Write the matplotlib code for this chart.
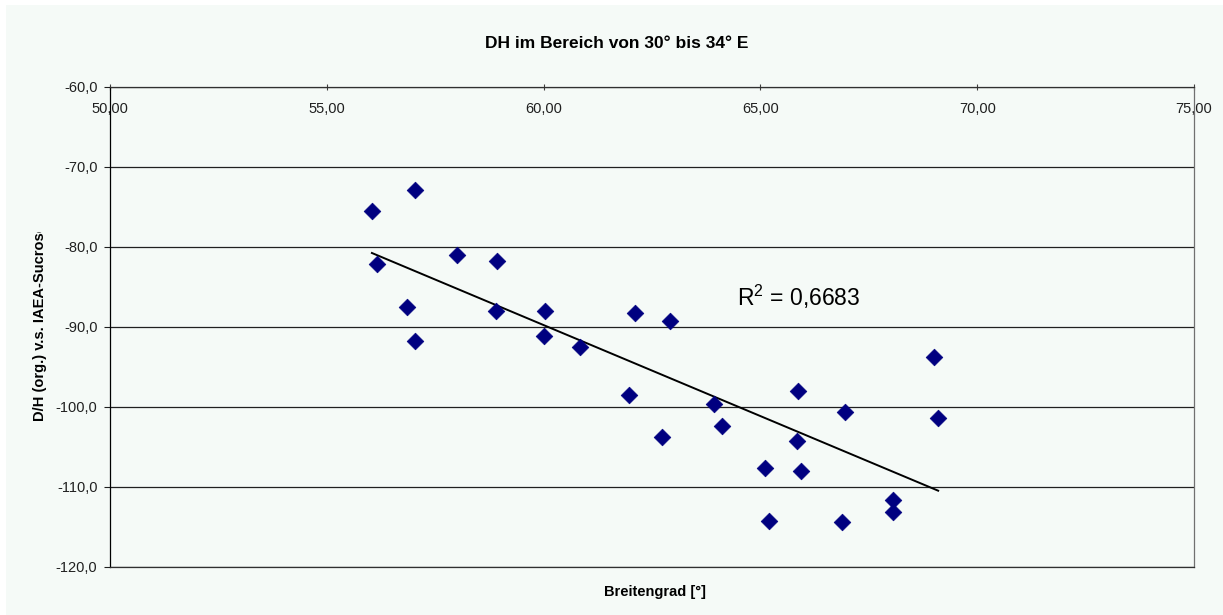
import matplotlib
matplotlib.use("Agg")
import matplotlib.pyplot as plt
import numpy as np
from matplotlib.ticker import FuncFormatter, MultipleLocator
from matplotlib.patches import Rectangle
from matplotlib.transforms import Bbox

# Data
latitude = [56.04, 57.03, 56.16, 58.00, 58.93, 56.85, 57.03, 58.90, 60.03, 60.00,
            60.84, 62.10, 62.91, 61.97, 62.73, 63.93, 64.11, 65.10, 65.20, 65.87,
            65.84, 65.94, 66.95, 66.88, 68.06, 68.06, 69.00, 69.10]
dh_values = [-75.5, -72.9, -82.2, -81.0, -81.8, -87.5, -91.8, -88.0, -88.0, -91.1,
             -92.5, -88.3, -89.3, -98.5, -103.8, -99.6, -102.4, -107.7, -114.2, -98.0,
             -104.3, -108.0, -100.6, -114.4, -111.6, -113.1, -93.8, -101.4]
r2_text = "R$^2$ = 0,6683"
title = "DH im Bereich von 30° bis 34° E"
xlabel = "Breitengrad [°]"
ylabel = "D/H (org.) v.s. IAEA-Sucrose"

plt.rcParams['font.family'] = ['Liberation Sans', 'DejaVu Sans']
plt.rcParams['mathtext.fontset'] = 'custom'
plt.rcParams['mathtext.rm'] = 'Liberation Sans'

W, H = 1223, 615
fig = plt.figure(figsize=(W / 100, H / 100), dpi=100)
fig.patch.set_facecolor('white')
bg = '#F5FAF7'
fig.patches.append(Rectangle((6 / W, 0), 1, 1 - 5 / H, transform=fig.transFigure,
                             facecolor=bg, edgecolor='none', zorder=-10))

ax = fig.add_axes([110 / W, 1 - 567 / H, (1194 - 110) / W, (567 - 86.5) / H])
ax.set_facecolor(bg)

x = np.array(latitude)
y = np.array(dh_values)
ax.scatter(x, y, marker='D', s=72, color='#000080', edgecolors='#000080', linewidths=0.5, zorder=3)

coef = np.polyfit(x, y, 1)
xl = np.array([x.min(), x.max()])
ax.plot(xl, np.polyval(coef, xl), color='black', lw=1.4, zorder=2)

ax.set_xlim(50, 75)
ax.set_ylim(-120, -60)
ax.xaxis.set_major_locator(MultipleLocator(5))
ax.yaxis.set_major_locator(MultipleLocator(10))
ax.xaxis.set_major_formatter(FuncFormatter(lambda v, p: f"{v:.2f}".replace('.', ',')))
ax.yaxis.set_major_formatter(FuncFormatter(lambda v, p: f"{v:.1f}".replace('.', ',')))

ax.tick_params(axis='x', top=True, bottom=False, labeltop=True, labelbottom=False,
               direction='inout', length=4, width=0.8, color='#404040', pad=-23,
               labelsize=10.5, labelcolor='#202020')
ax.tick_params(axis='y', direction='out', length=4, width=0.8, color='#202020',
               labelsize=10.5, labelcolor='#202020', pad=5)

ax.grid(axis='y', color='#202020', lw=0.9)
ax.set_axisbelow(True)
for side, c in [('top', '#303030'), ('left', '#000000'), ('right', '#707070'), ('bottom', '#303030')]:
    ax.spines[side].set_color(c)
    ax.spines[side].set_linewidth(0.9)

fig.text(617 / W, 1 - 44 / H, title, ha='center', va='center', fontsize=12.5, fontweight='bold')
fig.text(655 / W, 1 - 592 / H, xlabel, ha='center', va='center', fontsize=10.5, fontweight='bold')
yl = fig.text(40 / W, 1 - 421 / H, ylabel, ha='left', va='center', rotation=90,
              rotation_mode='anchor', fontsize=10.5, fontweight='bold')
yl.set_clip_box(Bbox([[0, 0], [W, H - 232]]))
yl.set_clip_on(True)

fig.text(737 / W, 1 - 297 / H, r2_text, ha='left', va='center', fontsize=16.5, color='black')

fig.savefig('out.png', dpi=100, facecolor=fig.get_facecolor())
